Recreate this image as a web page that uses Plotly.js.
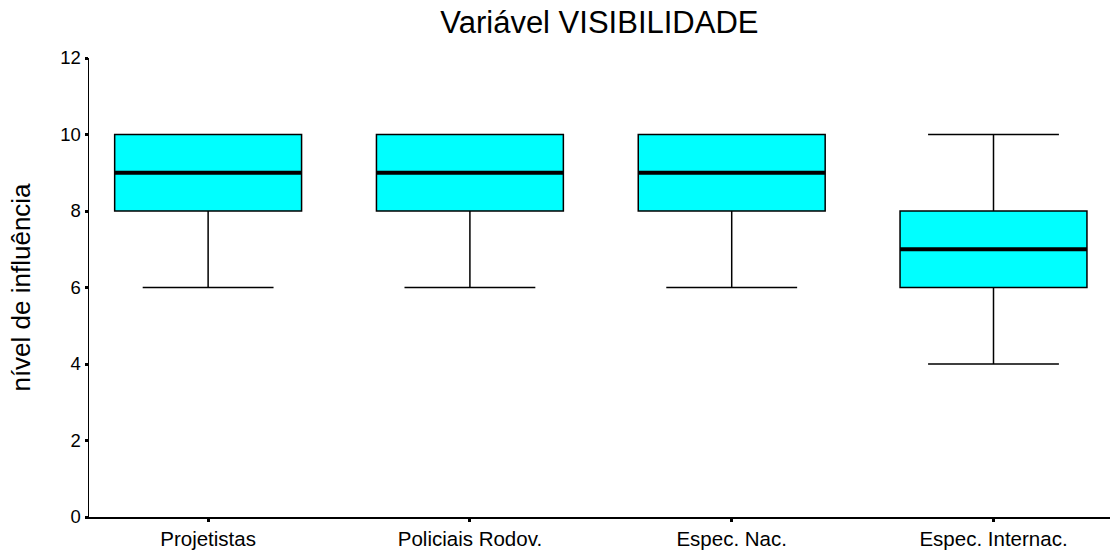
<!DOCTYPE html>
<html>
<head>
<meta charset="utf-8">
<script src="https://cdn.plot.ly/plotly-3.0.1.min.js"></script>
<style>body{margin:0;background:#fff}#plot{width:1110px;height:558px}</style>
</head>
<body>
<div id="plot"></div>
<script>
const categories = ['Projetistas', 'Policiais Rodov.', 'Espec. Nac.', 'Espec. Internac.'];
const lowerFence = [6, 6, 6, 4];
const q1 = [8, 8, 8, 6];
const median = [9, 9, 9, 7];
const q3 = [10, 10, 10, 8];
const upperFence = [10, 10, 10, 10];
const yTicks = [0, 2, 4, 6, 8, 10, 12];

const boxWidth = 0.714;

const trace = {
    type: 'box',
    x: categories,
    q1: q1,
    median: median,
    q3: q3,
    lowerfence: lowerFence,
    upperfence: upperFence,
    width: boxWidth,
    whiskerwidth: 0.7,
    fillcolor: '#00ffff',
    line: { color: '#000000', width: 1.5 },
    boxpoints: false,
    hoverinfo: 'skip',
    showlegend: false
};

// thick median lines on top of the boxes
const shapes = median.map((m, i) => ({
    type: 'line',
    xref: 'x',
    yref: 'y',
    x0: i - boxWidth / 2,
    x1: i + boxWidth / 2,
    y0: m,
    y1: m,
    line: { color: '#000000', width: 4 }
}));

const layout = {
    width: 1110,
    height: 558,
    margin: { l: 89, r: 0, t: 58, b: 41 },
    paper_bgcolor: '#ffffff',
    plot_bgcolor: '#ffffff',
    font: { family: 'Liberation Sans, Arial, sans-serif', color: '#000000', size: 18 },
    title: {
        text: 'Variável VISIBILIDADE',
        x: 0.54,
        xanchor: 'center',
        y: 0.96,
        yanchor: 'middle',
        font: { size: 31 }
    },
    xaxis: {
        type: 'category',
        range: [-0.455, 3.445],
        showline: true,
        linecolor: '#000000',
        linewidth: 1.5,
        ticks: 'outside',
        ticklen: 3,
        tickwidth: 3,
        tickcolor: '#000000',
        showgrid: false,
        zeroline: false,
        tickfont: { size: 20.5 }
    },
    yaxis: {
        range: [0, 12],
        tickvals: yTicks,
        showline: true,
        linecolor: '#000000',
        linewidth: 1.5,
        ticks: 'outside',
        ticklen: 3,
        tickwidth: 3,
        tickcolor: '#000000',
        showgrid: false,
        zeroline: false,
        tickfont: { size: 18.5 },
        title: { text: 'nível de influência', font: { size: 26 }, standoff: 22 }
    },
    shapes: shapes
};

Plotly.newPlot('plot', [trace], layout, { displayModeBar: false, staticPlot: true });
</script>
</body>
</html>
